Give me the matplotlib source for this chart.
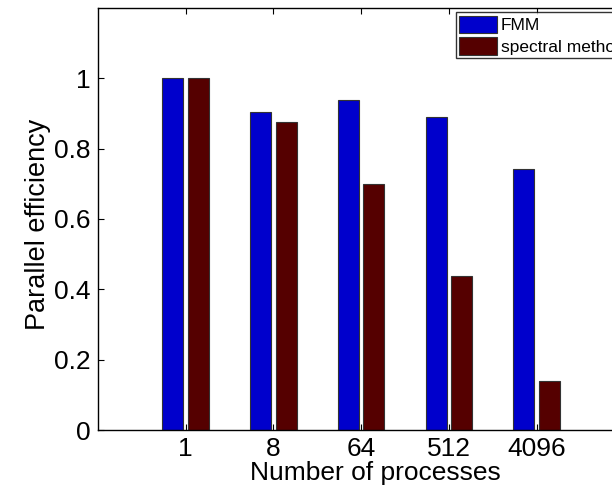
import numpy as np
import matplotlib.pyplot as plt

plt.rcParams['font.family'] = ['Liberation Sans', 'DejaVu Sans']

# data
procs = ['1', '8', '64', '512', '4096']
fmm = [1.0, 0.903, 0.937, 0.889, 0.741]
spectral = [1.0, 0.875, 0.70, 0.439, 0.14]

fig = plt.figure(figsize=(6.12, 4.91), dpi=100)
ax = fig.add_axes([0.160, 0.124, 0.86, 0.860])

x = np.arange(1, len(procs) + 1)
w = 0.24
ax.bar(x - 0.145, fmm, w, color='#0000cc', edgecolor='#333333', linewidth=0.8, label='FMM')
ax.bar(x + 0.145, spectral, w, color='#550000', edgecolor='#333333', linewidth=0.8, label='spectral method')

ax.set_xlim(0, 6)
ax.set_ylim(0, 1.2)
ax.set_xticks(x)
ax.set_xticklabels(procs)
ax.set_yticks([0, 0.2, 0.4, 0.6, 0.8, 1])
ax.set_yticklabels(['0', '0.2', '0.4', '0.6', '0.8', '1'])
ax.tick_params(direction='in', length=4, top=True, right=True, labelsize=19, pad=5)
for s in ax.spines.values():
    s.set_linewidth(1.0)

ax.set_xlabel('Number of processes', fontsize=19, labelpad=0)
ax.xaxis.set_label_coords(0.528, -0.072)
ax.set_ylabel('Parallel efficiency', fontsize=19.5, labelpad=4)
ax.yaxis.set_label_coords(-0.09, 0.487)

leg = ax.legend(loc='upper left', bbox_to_anchor=(0.68, 0.99), fontsize=12.5,
                frameon=True, fancybox=False, borderpad=0.2, handlelength=2.2,
                handleheight=1.2, handletextpad=0.2, labelspacing=0.2, borderaxespad=0)
leg.get_frame().set_edgecolor('black')
leg.get_frame().set_linewidth(1.0)

fig.savefig('out.png', dpi=100)
